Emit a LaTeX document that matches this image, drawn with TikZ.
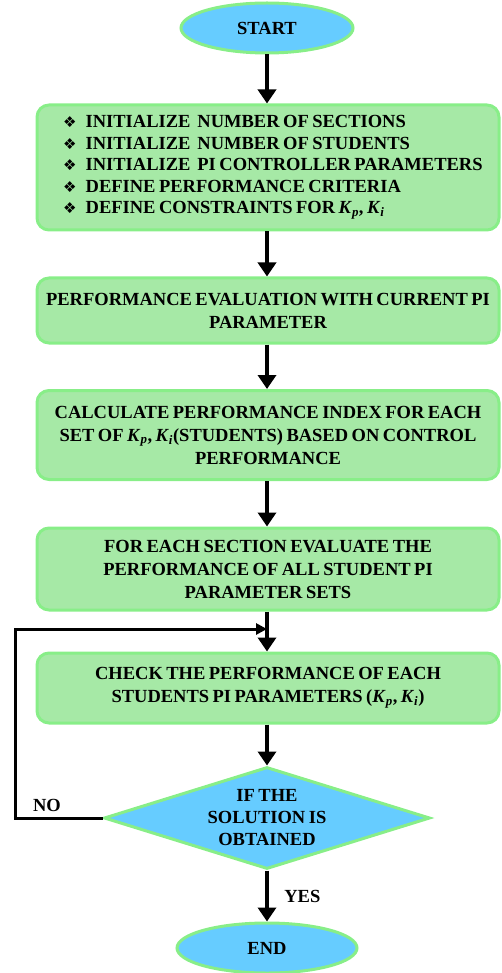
\documentclass[tikz,border=0pt]{standalone}
\usepackage{fontspec}
\setmainfont{Liberation Serif}[WordSpace=0.75]
\newfontfamily\dejavu{DejaVu Sans}
\usetikzlibrary{shapes.geometric,arrows.meta}
\definecolor{lblue}{HTML}{66CCFF}
\definecolor{lgreen}{HTML}{88EE88}
\definecolor{bfill}{HTML}{A6E9A6}
\newcommand{\Kp}{\textit{K}\textsubscript{\textit{p}}}
\newcommand{\Ki}{\textit{K}\textsubscript{\textit{i}}}
\newcommand{\bul}{{\dejavu\fontsize{15}{15}\selectfont ❖}\hspace{9pt}}
\tikzset{
  txt/.style={font=\fontsize{18.5}{23}\selectfont\bfseries, align=center, text=black},
  term/.style={ellipse, txt, fill=lblue, draw=lgreen, line width=3pt, inner sep=0pt},
  rbox/.style={rectangle, rounded corners=12pt, txt, fill=bfill, draw=lgreen, line width=3pt,
    minimum width=462pt, inner sep=0pt},
  dec/.style={diamond, fill=lblue, draw=lgreen, line width=3pt, inner sep=0pt,
    minimum width=326pt, minimum height=102pt},
  flow/.style={line width=4pt, -{Triangle[width=18pt,length=14pt]}},
  back/.style={line width=3pt, -{Triangle[width=11pt,length=11pt]}},
  lab/.style={txt, font=\fontsize{18.5}{20}\selectfont\bfseries}
}
\begin{document}
\begin{tikzpicture}[x=1pt,y=-1pt]
\useasboundingbox (0,0) rectangle (501,973);
\node[term, minimum width=172pt, minimum height=50pt] (start) at (267,28) {START};
\node[rbox, minimum height=125pt] (b1) at (268,167.5) {};
\node[txt, align=left, anchor=west, font=\fontsize{18.5}{21.5}\selectfont\bfseries, inner sep=0pt] (b1t) at (63,167.5)
  {\bul INITIALIZE\ \ NUMBER OF SECTIONS\\
   \bul INITIALIZE\ \ NUMBER OF STUDENTS\\
   \bul INITIALIZE\ \ PI CONTROLLER PARAMETERS\\
   \bul DEFINE PERFORMANCE CRITERIA\\
   \bul DEFINE CONSTRAINTS FOR \Kp, \Ki};
\node[rbox, minimum height=65pt] (b2) at (268,310.5)
  {PERFORMANCE EVALUATION WITH CURRENT PI\\PARAMETER};
\node[rbox, minimum height=89pt] (b3) at (268,435)
  {CALCULATE PERFORMANCE INDEX FOR EACH\\SET OF \Kp, \Ki(STUDENTS) BASED ON CONTROL\\PERFORMANCE};
\node[rbox, minimum height=82pt] (b4) at (268,569)
  {FOR EACH SECTION EVALUATE THE\\PERFORMANCE OF ALL STUDENT PI\\PARAMETER SETS};
\node[rbox, minimum height=70pt] (b5) at (268,688)
  {CHECK THE PERFORMANCE OF EACH\\STUDENTS PI PARAMETERS (\Kp, \Ki)};
\node[dec] (d) at (267,818) {};
\node[txt, font=\fontsize{18.5}{22}\selectfont\bfseries] (dt) at (d.center) {IF THE\\SOLUTION IS\\OBTAINED};
\node[term, minimum width=180pt, minimum height=50pt] (end) at (267,948) {END};

\draw[flow] (start.south) -- (b1.north -| start.south);
\draw[flow] (b1.south -| start.south) -- (b2.north -| start.south);
\draw[flow] (b2.south -| start.south) -- (b3.north -| start.south);
\draw[flow] (b3.south -| start.south) -- (b4.north -| start.south);
\draw[flow] (b4.south -| start.south) -- (b5.north -| start.south);
\draw[flow] (b5.south -| start.south) -- (d.north);
\draw[flow] (d.south) -- (end.north) node[midway, right=12pt, lab] (yes) {YES};
\coordinate (c1) at (15,818);
\coordinate (c2) at (15,629);
\draw[back] (d.west) -- (c1) -- (c2) -- (c2 -| start.south);
\node[lab] (no) at (47,805) {NO};
\end{tikzpicture}
\end{document}
